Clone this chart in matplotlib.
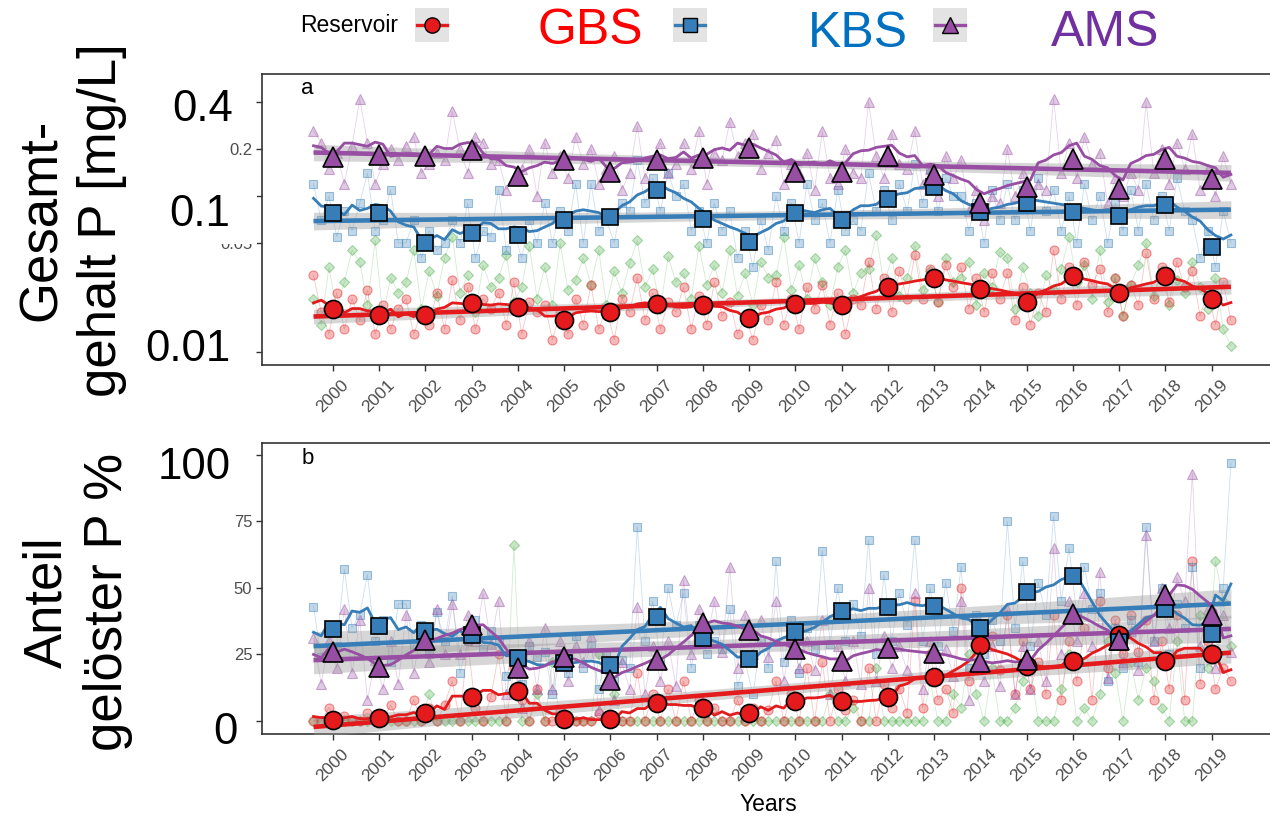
import numpy as np
import pandas as pd
import matplotlib
matplotlib.use("Agg")
import matplotlib.pyplot as plt
from matplotlib.patches import Rectangle
from matplotlib.lines import Line2D
from matplotlib.colors import to_rgba

plt.rcParams['font.family'] = ['Liberation Sans', 'DejaVu Sans']

years = list(range(2000, 2020))
per_year = 6
year_labels = [str(y) for y in years]

# ---- total phosphorus, six samples per year [mg/L] ----
tp_gbs = [
    .031, .018, .013, .024, .014, .022,
    .016, .025, .013, .020, .014, .019,
    .022, .013, .018, .015, .024, .014,
    .029, .016, .026, .014, .022, .019,
    .024, .015, .028, .013, .021, .018,
    .020, .012, .018, .013, .022, .015,
    .027, .014, .019, .012, .022, .018,
    .030, .016, .024, .014, .021, .018,
    .026, .014, .023, .015, .028, .017,
    .021, .013, .017, .012, .020, .016,
    .028, .015, .022, .014, .026, .019,
    .027, .015, .024, .013, .022, .020,
    .038, .019, .030, .018, .033, .022,
    .042, .022, .034, .021, .036, .026,
    .035, .019, .030, .018, .032, .022,
    .032, .016, .026, .015, .024, .018,
    .045, .022, .035, .020, .038, .027,
    .034, .018, .030, .017, .027, .020,
    .043, .022, .035, .021, .038, .026,
    .033, .017, .024, .015, .028, .016,
]
tp_kbs = [
    .12, .07, .10, .055, .08, .06,
    .09, .14, .06, .07, .11, .05,
    .05, .07, .04, .06, .045, .05,
    .07, .05, .09, .04, .06, .055,
    .11, .045, .06, .04, .07, .05,
    .09, .05, .08, .06, .12, .05,
    .12, .06, .07, .05, .09, .08,
    .17, .09, .13, .08, .14, .10,
    .12, .06, .08, .05, .09, .06,
    .08, .04, .06, .035, .07, .045,
    .10, .06, .09, .05, .12, .07,
    .09, .05, .11, .06, .07, .06,
    .14, .08, .11, .07, .12, .08,
    .16, .09, .15, .08, .13, .10,
    .10, .06, .09, .05, .11, .07,
    .12, .07, .11, .06, .13, .08,
    .11, .06, .10, .05, .12, .07,
    .10, .05, .09, .06, .11, .06,
    .12, .07, .10, .06, .13, .08,
    .07, .04, .06, .035, .08, .05,
]
tp_ams = [
    .26, .22, .15, .19, .12, .21,
    .42, .22, .12, .16, .20, .17,
    .21, .24, .14, .16, .19, .17,
    .35, .20, .14, .24, .22, .16,
    .17, .11, .13, .15, .20, .10,
    .22, .14, .18, .13, .24, .16,
    .20, .12, .15, .18, .11, .14,
    .28, .13, .17, .22, .14, .16,
    .22, .15, .26, .12, .19, .17,
    .30, .18, .22, .25, .15, .19,
    .23, .12, .16, .14, .19, .11,
    .26, .13, .12, .20, .14, .13,
    .40, .18, .13, .25, .16, .15,
    .26, .12, .15, .10, .18, .13,
    .17, .08, .11, .07, .10, .09,
    .20, .10, .14, .09, .12, .11,
    .42, .14, .22, .13, .24, .16,
    .19, .09, .13, .10, .14, .11,
    .40, .14, .20, .12, .22, .15,
    .25, .11, .15, .10, .18, .12,
]
tp_other = [
    .022, .015, .035, .019, .028, .045,
    .038, .020, .052, .017, .030, .024,
    .028, .045, .019, .033, .023, .040,
    .055, .024, .031, .018, .036, .026,
    .030, .042, .021, .026, .048, .022,
    .035, .020, .050, .025, .029, .040,
    .027, .045, .020, .033, .024, .037,
    .052, .026, .034, .019, .041, .028,
    .032, .022, .048, .027, .036, .024,
    .045, .023, .032, .020, .038, .030,
    .031, .055, .025, .036, .022, .040,
    .028, .020, .035, .045, .024, .032,
    .034, .056, .027, .040, .023, .030,
    .048, .025, .033, .021, .040, .028,
    .030, .038, .020, .032, .026, .044,
    .040, .019, .035, .024, .017, .031,
    .025, .034, .055, .028, .036, .022,
    .045, .021, .030, .017, .027, .036,
    .050, .023, .033, .020, .029, .024,
    .038, .026, .019, .030, .014, .011,
]

# annual means of total P [mg/L]
tp_mean_gbs = [.0189, .0173, .0173, .0207, .0195, .0161, .0181, .0203, .0199, .0165,
               .0203, .0200, .0260, .0297, .0252, .0210, .0307, .0240, .0306, .0218]
tp_mean_kbs = [.078, .078, .050, .058, .056, .070, .073, .109, .071, .051,
               .078, .070, .096, .114, .079, .090, .079, .074, .088, .047]
tp_mean_ams = [.178, .183, .180, .197, .134, .170, .143, .170, .175, .203,
               .143, .143, .180, .136, .090, .114, .173, .111, .173, .128]

# ---- share of dissolved P, six samples per year [%] ----
dp_gbs = [
    0, 0, 5, 0, 2, 0,
    0, 3, 0, 0, 6, 0,
    0, 8, 0, 5, 0, 6,
    15, 0, 30, 5, 0, 9,
    25, 0, 20, 8, 0, 12,
    0, 0, 4, 0, 0, 0,
    0, 3, 0, 0, 0, 0,
    18, 0, 10, 0, 12, 0,
    15, 0, 8, 0, 5, 0,
    0, 8, 0, 5, 0, 4,
    15, 0, 10, 0, 20, 0,
    22, 0, 12, 4, 8, 0,
    20, 0, 14, 5, 12, 3,
    45, 5, 25, 8, 12, 3,
    50, 15, 35, 20, 32, 19,
    40, 10, 30, 12, 22, 10,
    40, 8, 30, 15, 35, 8,
    45, 20, 38, 25, 40, 26,
    38, 8, 30, 12, 40, 8,
    60, 14, 30, 12, 20, 15,
]
dp_kbs = [
    43, 24, 33, 28, 57, 35,
    40, 55, 30, 38, 22, 44,
    44, 28, 36, 25, 41, 30,
    47, 18, 30, 38, 27, 34,
    30, 17, 25, 14, 28, 24,
    26, 10, 24, 18, 32, 20,
    28, 12, 25, 15, 23, 20,
    73, 30, 45, 22, 50, 36,
    48, 20, 36, 25, 30, 27,
    42, 13, 22, 10, 30, 20,
    60, 22, 38, 18, 35, 27,
    64, 29, 50, 30, 44, 32,
    68, 25, 55, 30, 48, 36,
    68, 30, 50, 28, 52, 34,
    58, 20, 40, 25, 38, 30,
    75, 35, 60, 28, 52, 40,
    77, 45, 65, 40, 58, 42,
    48, 15, 35, 20, 38, 22,
    73, 30, 50, 25, 44, 35,
    58, 20, 35, 24, 50, 97,
]
dp_ams = [
    31, 14, 30, 20, 42, 18,
    38, 8, 23, 12, 30, 14,
    40, 18, 35, 22, 42, 25,
    44, 25, 40, 30, 48, 29,
    45, 10, 25, 5, 30, 12,
    35, 12, 30, 15, 28, 22,
    32, 4, 20, 8, 22, 12,
    43, 10, 28, 15, 30, 13,
    53, 25, 42, 30, 45, 26,
    58, 20, 40, 25, 38, 24,
    45, 15, 32, 20, 30, 19,
    38, 10, 28, 15, 30, 14,
    50, 15, 32, 20, 28, 19,
    48, 12, 30, 18, 27, 17,
    45, 8, 25, 15, 28, 13,
    42, 10, 28, 12, 30, 15,
    65, 25, 45, 30, 48, 28,
    56, 16, 35, 22, 34, 19,
    70, 30, 50, 35, 54, 45,
    93, 28, 42, 20, 40, 26,
]
dp_other = [
    0, 0, 0, 0, 0, 0,
    0, 0, 0, 0, 0, 0,
    0, 0, 0, 10, 0, 0,
    0, 0, 0, 0, 0, 0,
    0, 0, 66, 0, 0, 10,
    0, 22, 0, 0, 0, 0,
    0, 25, 0, 10, 0, 0,
    0, 0, 0, 0, 0, 0,
    0, 0, 0, 0, 0, 0,
    0, 0, 0, 0, 0, 0,
    0, 0, 0, 0, 0, 0,
    0, 10, 0, 0, 5, 0,
    0, 20, 0, 0, 0, 0,
    0, 0, 15, 0, 0, 10,
    5, 25, 10, 0, 20, 0,
    0, 5, 15, 20, 0, 0,
    0, 12, 25, 0, 5, 0,
    10, 30, 18, 0, 22, 8,
    20, 15, 5, 0, 30, 0,
    0, 40, 20, 60, 45, 28,
]

# annual means of dissolved share [%]
dp_mean_gbs = [0.4, 1.0, 3.1, 8.9, 11.4, 0.6, 0.6, 6.6, 4.8, 2.9,
               7.5, 7.5, 8.9, 16.4, 28.5, 20.6, 22.6, 32.3, 22.6, 25.2]
dp_mean_kbs = [34.4, 35.8, 33.8, 32.3, 23.5, 21.9, 21.0, 38.9, 31.3, 23.3,
               33.3, 41.3, 42.7, 43.3, 35.0, 48.5, 54.4, 29.5, 41.9, 32.7]
dp_mean_ams = [26.0, 20.4, 30.4, 36.0, 19.8, 24.1, 15.4, 22.9, 36.7, 34.2,
               26.9, 22.6, 27.3, 25.4, 22.3, 22.9, 40.2, 30.4, 47.3, 39.8]

col = {"GBS": "#E41A1C", "KBS": "#377EB8", "AMS": "#984EA3", "other": "#4DAF4A"}
mk = {"GBS": "o", "KBS": "s", "AMS": "^", "other": "D"}
big_ms = {"GBS": 13, "KBS": 12, "AMS": 15}
small_ms = {"GBS": 6.5, "KBS": 6, "AMS": 7.5, "other": 5.5}

W, H = 1270, 817
fig = plt.figure(figsize=(W / 100, H / 100), dpi=100, facecolor="white")


def fx(px):
    return px / W


def fy(py):
    return 1 - py / H


sample_x = np.array([y - 0.5 + (k + 0.5) / per_year for y in years for k in range(per_year)])
year_x = np.array(years, dtype=float)


def trend(x, v, log):
    yy = np.log10(v) if log else np.asarray(v, float)
    n = len(x)
    b, a = np.polyfit(x, yy, 1)
    xs = np.linspace(x.min(), x.max(), 200)
    fit = a + b * xs
    resid = yy - (a + b * x)
    s = np.sqrt(np.sum(resid ** 2) / (n - 2))
    sxx = np.sum((x - x.mean()) ** 2)
    se = s * np.sqrt(1 / n + (xs - x.mean()) ** 2 / sxx)
    lo, hi = fit - 1.98 * se, fit + 1.98 * se
    if log:
        return xs, 10 ** fit, 10 ** lo, 10 ** hi
    return xs, fit, lo, hi


def draw_panel(ax, samples, means, log):
    # faint individual samples
    for key in ["other", "GBS", "KBS", "AMS"]:
        v = np.asarray(samples[key], float)
        c = col[key]
        ax.plot(sample_x, v, color=c, lw=0.6, alpha=0.25, zorder=1)
        ax.plot(sample_x, v, ls="none", marker=mk[key], ms=small_ms[key],
                mfc=to_rgba(c, 0.3), mec=to_rgba(c, 0.45), mew=0.8, zorder=2)
    # linear trend with confidence band
    for key in ["GBS", "KBS", "AMS"]:
        xs, fit, lo, hi = trend(sample_x, np.asarray(samples[key], float), log)
        ax.fill_between(xs, lo, hi, color="#999999", alpha=0.4, lw=0, zorder=3)
        ax.plot(xs, fit, color=col[key], lw=3.3, zorder=4, solid_capstyle="butt")
    # one-year moving average
    for key in ["GBS", "KBS", "AMS"]:
        roll = pd.Series(np.asarray(samples[key], float)).rolling(
            per_year, center=True, min_periods=3).mean()
        ax.plot(sample_x, roll, color=col[key], lw=2.0, zorder=5)
    # annual means
    for key in ["GBS", "KBS", "AMS"]:
        ax.plot(year_x, means[key], ls="none", marker=mk[key], ms=big_ms[key],
                mfc=col[key], mec="black", mew=1.2, zorder=6)


def style_axes(ax):
    for sp in ax.spines.values():
        sp.set_color("#333333")
        sp.set_linewidth(1.2)
    ax.set_xlim(1998.47, 2020.37)
    ax.set_xticks(years)
    ax.set_xticklabels(year_labels, rotation=45, ha="center", va="top",
                       fontsize=12.5, color="#4D4D4D")
    ax.tick_params(axis="both", length=4, width=1.0, color="#333333", pad=5)
    ax.tick_params(axis="y", labelsize=12, labelcolor="#4D4D4D", pad=3)


# ---- panel a: total P ----
ax1 = fig.add_axes([fx(262), fy(365), fx(1275 - 262), fy(73.5) - fy(365)])
draw_panel(ax1,
           {"GBS": tp_gbs, "KBS": tp_kbs, "AMS": tp_ams, "other": tp_other},
           {"GBS": tp_mean_gbs, "KBS": tp_mean_kbs, "AMS": tp_mean_ams}, log=True)
ax1.set_yscale("log")
ax1.set_ylim(0.00826, 0.610)
ax1.set_yticks([0.01, 0.05, 0.1, 0.2, 0.4])
ax1.set_yticklabels(["", "0.05", "", "0.2", ""])
ax1.yaxis.set_minor_locator(matplotlib.ticker.NullLocator())
style_axes(ax1)
ax1.text(0.045, 0.95, "a", transform=ax1.transAxes, fontsize=16, va="center", ha="center")

# ---- panel b: dissolved share ----
ax2 = fig.add_axes([fx(262), fy(734), fx(1275 - 262), fy(442.7) - fy(734)])
draw_panel(ax2,
           {"GBS": dp_gbs, "KBS": dp_kbs, "AMS": dp_ams, "other": dp_other},
           {"GBS": dp_mean_gbs, "KBS": dp_mean_kbs, "AMS": dp_mean_ams}, log=False)
ax2.set_ylim(-4.9, 104.6)
ax2.set_yticks([0, 25, 50, 75, 100])
ax2.set_yticklabels(["", "25", "50", "75", ""])
style_axes(ax2)
ax2.text(0.045, 0.945, "b", transform=ax2.transAxes, fontsize=16, va="center", ha="center")
ax2.set_xlabel("Years", fontsize=16.5, labelpad=6)

# white backing behind the enlarged 0.1 label
fig.add_artist(Rectangle((fx(140), fy(244)), fx(257) - fx(140), fy(160) - fy(244),
                         transform=fig.transFigure, facecolor="white", edgecolor="none",
                         zorder=1))

# enlarged tick labels
big_ticks = [("0.4", 233, 121), ("0.1", 230, 226), ("0.01", 230, 361),
             ("100", 231, 479), ("0", 238, 744)]
for txt, xr, yb in big_ticks:
    fig.text(fx(xr), fy(yb), txt, ha="right", va="baseline", fontsize=31.5, zorder=4)

# axis titles
fig.text(fx(72), fy(220), "Gesamt-\ngehalt P [mg/L]", rotation=90, ha="center",
         va="center", fontsize=38, linespacing=1.28)
fig.text(fx(78), fy(602), "Anteil\ngelöster P %", rotation=90, ha="center",
         va="center", fontsize=38, linespacing=1.28)

# legend
fig.text(fx(300), fy(26), "Reservoir", ha="left", va="center", fontsize=16.5)
legend_keys = [("GBS", 432), ("KBS", 690), ("AMS", 950)]
for key, cx in legend_keys:
    fig.add_artist(Rectangle((fx(cx - 17), fy(42)), fx(34), fy(8) - fy(42),
                             transform=fig.transFigure, facecolor="#E3E3E3",
                             edgecolor="none", zorder=1))
    fig.add_artist(Line2D([fx(cx - 15), fx(cx + 15)], [fy(25), fy(25)],
                          transform=fig.transFigure, color=col[key], lw=2.4, zorder=2))
    fig.add_artist(Line2D([fx(cx)], [fy(25)], transform=fig.transFigure, ls="none",
                          marker=mk[key], ms={"GBS": 11, "KBS": 10, "AMS": 11}[key],
                          mfc=col[key], mec="black", mew=1.0, zorder=3))
legend_names = [("GBS", 537, 31, "#FF0000"), ("KBS", 808, 34, "#0070C0"),
                ("AMS", 1051, 33, "#7030A0")]
for name, xl, yc, c in legend_names:
    fig.text(fx(xl), fy(yc), name, ha="left", va="center", fontsize=36, color=c)

fig.savefig("out.png", dpi=100, facecolor="white")
